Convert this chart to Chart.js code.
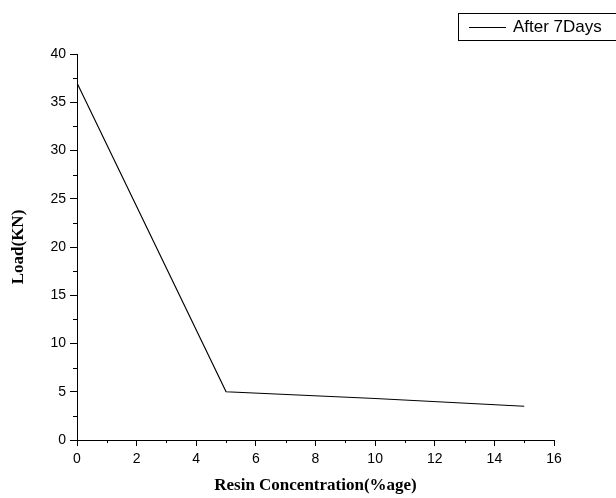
<!DOCTYPE html>
<html>
<head>
<meta charset="utf-8">
<script src="https://cdn.jsdelivr.net/npm/chart.js@4"></script>
<style>
  html, body { margin: 0; padding: 0; background: #fff; }
  #wrap { width: 616px; height: 498px; }
</style>
</head>
<body>
<div id="wrap"><canvas id="chart" width="616" height="498"></canvas></div>
<script>
const resinConc = [0, 5, 10, 15];
const loadAfter7Days = [37, 5, 4.3, 3.5];
const seriesLabel = "After 7Days";

// Origin-style minor ticks halfway between the major ones
const minorTicks = {
  id: 'minorTicks',
  afterDraw(chart) {
    const ctx = chart.ctx;
    const x = chart.scales.x, y = chart.scales.y;
    ctx.save();
    ctx.strokeStyle = '#000';
    ctx.lineWidth = 1;
    ctx.beginPath();
    for (let v = 1; v < 16; v += 2) {
      const px = Math.round(x.getPixelForValue(v)) + 0.5;
      ctx.moveTo(px, y.bottom);
      ctx.lineTo(px, y.bottom + 3);
    }
    for (let v = 2.5; v < 40; v += 5) {
      const py = Math.round(y.getPixelForValue(v)) + 0.5;
      ctx.moveTo(x.left, py);
      ctx.lineTo(x.left - 4, py);
    }
    ctx.stroke();
    ctx.restore();
  }
};

// boxed legend in the top right corner
const boxLegend = {
  id: 'boxLegend',
  afterDraw(chart) {
    const ctx = chart.ctx;
    ctx.save();
    ctx.strokeStyle = '#000';
    ctx.lineWidth = 1;
    ctx.strokeRect(458.5, 13.5, 160, 27);
    ctx.beginPath();
    ctx.moveTo(469, 27.5);
    ctx.lineTo(506, 27.5);
    ctx.stroke();
    ctx.fillStyle = '#000';
    ctx.font = '17px "Liberation Sans", Arial, sans-serif';
    ctx.textBaseline = 'middle';
    ctx.fillText(chart.data.datasets[0].label, 513, 27.5);
    ctx.restore();
  }
};

new Chart(document.getElementById('chart'), {
  type: 'line',
  data: {
    datasets: [{
      label: seriesLabel,
      data: resinConc.map((c, i) => ({ x: c, y: loadAfter7Days[i] })),
      borderColor: '#000',
      borderWidth: 1.2,
      pointRadius: 0,
      tension: 0,
      fill: false
    }]
  },
  options: {
    responsive: false,
    animation: false,
    layout: { padding: { left: 0, right: 62, top: 54, bottom: 0 } },
    plugins: {
      legend: { display: false },
      tooltip: { enabled: false }
    },
    scales: {
      x: {
        type: 'linear',
        min: 0,
        max: 16,
        ticks: {
          stepSize: 2,
          color: '#000',
          padding: 5,
          font: { family: '"Liberation Sans", Arial, sans-serif', size: 14 }
        },
        grid: { drawOnChartArea: false, drawTicks: true, tickLength: 6, color: '#000' },
        border: { color: '#000', width: 1 },
        title: {
          display: true,
          text: 'Resin Concentration(%age)',
          color: '#000',
          font: { family: '"Liberation Serif", "Times New Roman", serif', size: 17, weight: 'bold' },
          padding: { top: 0, bottom: 2 }
        },
        afterFit(scale) { scale.height = 58; }
      },
      y: {
        min: 0,
        max: 40,
        ticks: {
          stepSize: 5,
          color: '#000',
          padding: 4,
          font: { family: '"Liberation Sans", Arial, sans-serif', size: 14 }
        },
        grid: { drawOnChartArea: false, drawTicks: true, tickLength: 7, color: '#000' },
        border: { color: '#000', width: 1 },
        title: {
          display: true,
          text: 'Load(KN)',
          color: '#000',
          font: { family: '"Liberation Serif", "Times New Roman", serif', size: 17, weight: 'bold' },
          padding: { top: 8, bottom: 0 }
        },
        afterFit(scale) { scale.width = 77; }
      }
    }
  },
  plugins: [minorTicks, boxLegend]
});
</script>
</body>
</html>
